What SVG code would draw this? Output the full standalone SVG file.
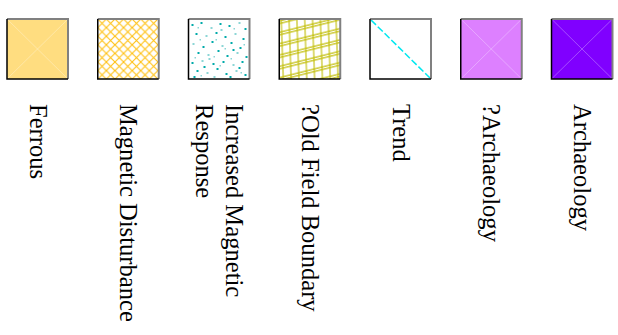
<svg xmlns="http://www.w3.org/2000/svg" width="618" height="335" viewBox="0 0 618 335">
<style>
.lbl{font-family:"Liberation Serif","Times New Roman",serif;font-size:24.6px;fill:#000}
.hi{stroke:#808080;stroke-width:2;fill:none}
.lo{stroke:#000;stroke-width:1.5;fill:none}
.x{stroke:#fff;stroke-opacity:0.3;stroke-width:1;fill:none}
.d1{fill:#00AAAA}
.d2{fill:#8CD6D6}
</style>
<defs>
<pattern id="hatch" width="8.6" height="8.6" patternUnits="userSpaceOnUse" x="97.75" y="19">
<path d="M0,0 L8.6,8.6 M8.6,0 L0,8.6" stroke="#FFC010" stroke-width="1.1" fill="none"/>
</pattern>
<pattern id="field" width="8" height="11" patternUnits="userSpaceOnUse" patternTransform="translate(279.25,19) rotate(-14) skewX(-12)">
<path d="M0,2 H8 M0,4.5 H8 M2,0 V11" stroke="#C0BC00" stroke-width="1.1" fill="none"/>
</pattern>
</defs>

<g id="ferrous">
<rect x="7" y="19" width="61" height="60" fill="#FFDD80"/>
<path class="x" d="M7,19 L68,79 M68,19 L7,79"/>
<path class="hi" d="M7,19 H68 V79"/>
<path class="lo" d="M7,19 V79 H68"/>
<text class="lbl" transform="translate(29.5,104) rotate(90)">Ferrous</text>
</g>

<g id="magnetic-disturbance">
<rect x="97.75" y="19" width="61" height="60" fill="#fff"/>
<rect x="97.75" y="19" width="61" height="60" fill="url(#hatch)"/>
<path class="hi" d="M97.75,19 H158.75 V79"/>
<path class="lo" d="M97.75,19 V79 H158.75"/>
<text class="lbl" transform="translate(120.25,104) rotate(90)">Magnetic Disturbance</text>
</g>

<g id="increased-magnetic-response">
<rect x="188.5" y="19" width="61" height="60" fill="#fff"/>
<g transform="translate(188.5,19)">
<rect class="d1" x="3" y="5" width="2" height="2"/><rect class="d1" x="12" y="3" width="2" height="2"/><rect class="d2" x="22" y="8" width="2" height="2"/><rect class="d1" x="31" y="4" width="2" height="2"/><rect class="d1" x="40" y="6" width="2" height="2"/><rect class="d2" x="50" y="3" width="2" height="2"/><rect class="d1" x="56" y="9" width="2" height="2"/>
<rect class="d1" x="7" y="14" width="2" height="2"/><rect class="d2" x="17" y="16" width="2" height="2"/><rect class="d1" x="27" y="13" width="2" height="2"/><rect class="d1" x="36" y="17" width="2" height="2"/><rect class="d2" x="46" y="14" width="2" height="2"/><rect class="d1" x="54" y="19" width="2" height="2"/>
<rect class="d2" x="4" y="24" width="2" height="2"/><rect class="d1" x="14" y="27" width="2" height="2"/><rect class="d1" x="23" y="22" width="2" height="2"/><rect class="d2" x="33" y="26" width="2" height="2"/><rect class="d1" x="42" y="23" width="2" height="2"/><rect class="d1" x="51" y="28" width="2" height="2"/>
<rect class="d1" x="9" y="33" width="2" height="2"/><rect class="d2" x="19" y="35" width="2" height="2"/><rect class="d1" x="29" y="31" width="2" height="2"/><rect class="d1" x="38" y="36" width="2" height="2"/><rect class="d2" x="48" y="33" width="2" height="2"/><rect class="d1" x="57" y="37" width="2" height="2"/>
<rect class="d1" x="3" y="43" width="2" height="2"/><rect class="d2" x="13" y="41" width="2" height="2"/><rect class="d1" x="24" y="44" width="2" height="2"/><rect class="d1" x="34" y="42" width="2" height="2"/><rect class="d2" x="44" y="45" width="2" height="2"/><rect class="d1" x="53" y="42" width="2" height="2"/>
<rect class="d1" x="8" y="51" width="2" height="2"/><rect class="d2" x="18" y="53" width="2" height="2"/><rect class="d1" x="28" y="49" width="2" height="2"/><rect class="d1" x="37" y="54" width="2" height="2"/><rect class="d2" x="47" y="51" width="2" height="2"/><rect class="d1" x="56" y="55" width="2" height="2"/>
<rect class="d1" x="5" y="57" width="2" height="2"/><rect class="d1" x="15" y="47" width="2" height="2"/><rect class="d2" x="25" y="57" width="2" height="2"/><rect class="d1" x="41" y="57" width="2" height="2"/><rect class="d1" x="50" y="48" width="2" height="2"/><rect class="d2" x="32" y="10" width="2" height="2"/><rect class="d1" x="44" y="30" width="2" height="2"/><rect class="d2" x="20" y="39" width="2" height="2"/>
<rect class="d2" x="9" y="8" width="1.5" height="1.5"/><rect class="d2" x="45" y="9" width="1.5" height="1.5"/><rect class="d2" x="27" y="20" width="1.5" height="1.5"/><rect class="d2" x="11" y="20" width="1.5" height="1.5"/><rect class="d2" x="36" y="29" width="1.5" height="1.5"/><rect class="d2" x="55" y="25" width="1.5" height="1.5"/><rect class="d2" x="25" y="37" width="1.5" height="1.5"/><rect class="d2" x="42" y="39" width="1.5" height="1.5"/><rect class="d2" x="6" y="38" width="1.5" height="1.5"/><rect class="d2" x="31" y="46" width="1.5" height="1.5"/><rect class="d2" x="12" y="56" width="1.5" height="1.5"/><rect class="d2" x="52" y="53" width="1.5" height="1.5"/>
</g>
<path class="hi" d="M188.5,19 H249.5 V79"/>
<path class="lo" d="M188.5,19 V79 H249.5"/>
<text class="lbl" transform="translate(226,104) rotate(90)">Increased Magnetic</text>
<text class="lbl" transform="translate(196,104) rotate(90)">Response</text>
</g>

<g id="old-field-boundary">
<rect x="279.25" y="19" width="61" height="60" fill="#fff"/>
<rect x="279.25" y="19" width="61" height="60" fill="url(#field)"/>
<path class="hi" d="M279.25,19 H340.25 V79"/>
<path class="lo" d="M279.25,19 V79 H340.25"/>
<text class="lbl" transform="translate(301.75,104) rotate(90)">?Old Field Boundary</text>
</g>

<g id="trend">
<rect x="370" y="19" width="61" height="60" fill="#fff"/>
<path d="M371,20 L430,78" stroke="#00E8F0" stroke-width="1.5" stroke-dasharray="7,2.5" fill="none"/>
<path class="hi" d="M370,19 H431 V79"/>
<path class="lo" d="M370,19 V79 H431"/>
<text class="lbl" transform="translate(392.5,104) rotate(90)">Trend</text>
</g>

<g id="possible-archaeology">
<rect x="460.75" y="19" width="61" height="60" fill="#DD80FF"/>
<path class="x" d="M460.75,19 L521.75,79 M521.75,19 L460.75,79"/>
<path class="hi" d="M460.75,19 H521.75 V79"/>
<path class="lo" d="M460.75,19 V79 H521.75"/>
<text class="lbl" transform="translate(483.25,104) rotate(90)">?Archaeology</text>
</g>

<g id="archaeology">
<rect x="551.5" y="19" width="61" height="60" fill="#8000FF"/>
<path class="x" d="M551.5,19 L612.5,79 M612.5,19 L551.5,79"/>
<path class="hi" d="M551.5,19 H612.5 V79"/>
<path class="lo" d="M551.5,19 V79 H612.5"/>
<text class="lbl" transform="translate(574,104) rotate(90)">Archaeology</text>
</g>
</svg>
